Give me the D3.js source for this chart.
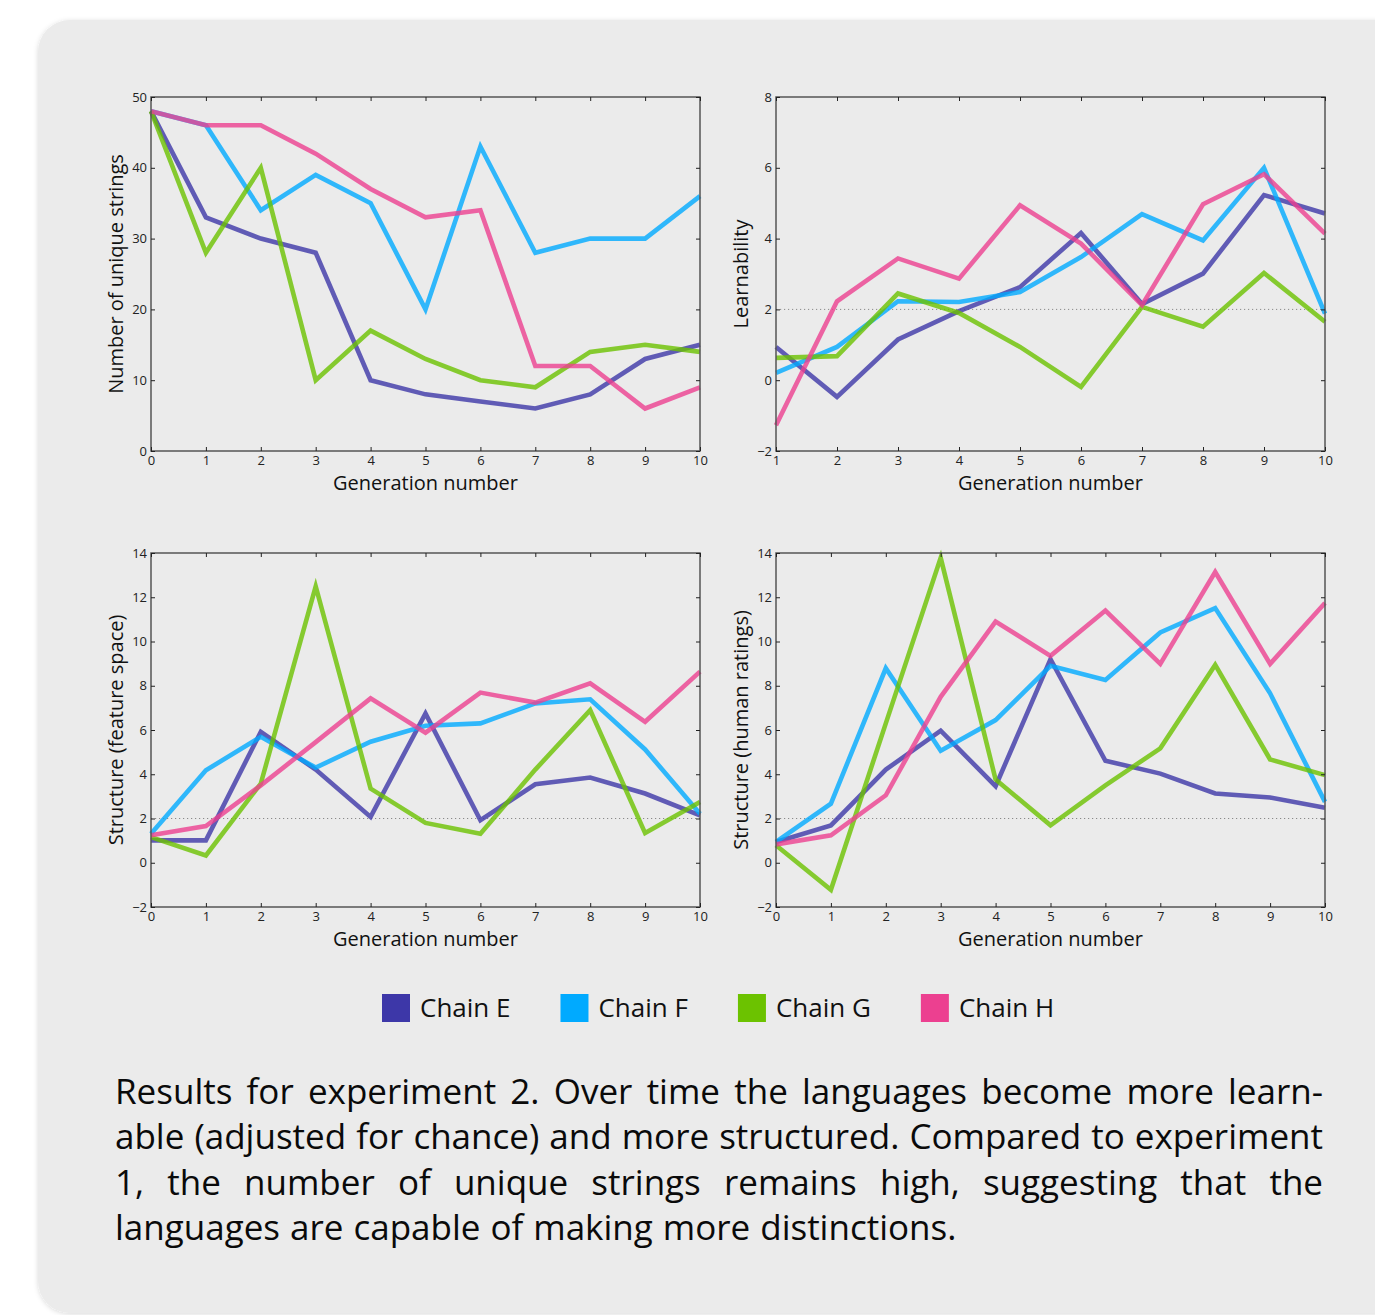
<!DOCTYPE html>
<html>
<head>
<meta charset="utf-8">
<script src="https://cdn.jsdelivr.net/npm/d3@7"></script>
<style>
  body { margin: 0; background: #fff; }
  svg { display: block; font-family: "Open Sans", sans-serif; }
</style>
</head>
<body>
<div id="fig"></div>
<script>
// chain names + colours (legend)
const chains = ["Chain E", "Chain F", "Chain G", "Chain H"]
const colors = ["#3d37a8", "#00aaff", "#6cc200", "#ec4090"]

// generations
const gens0 = [0, 1, 2, 3, 4, 5, 6, 7, 8, 9, 10]
const gens1 = [1, 2, 3, 4, 5, 6, 7, 8, 9, 10]

// number of unique strings
const uniqueE = [48, 33, 30, 28, 10, 8, 7, 6, 8, 13, 15]
const uniqueF = [48, 46, 34, 39, 35, 20, 43, 28, 30, 30, 36]
const uniqueG = [48, 28, 40, 10, 17, 13, 10, 9, 14, 15, 14]
const uniqueH = [48, 46, 46, 42, 37, 33, 34, 12, 12, 6, 9]

// learnability (gen 1..10)
const learnE = [0.94, -0.47, 1.15, 1.95, 2.63, 4.16, 2.15, 3.01, 5.23, 4.71]
const learnF = [0.21, 0.94, 2.23, 2.21, 2.49, 3.48, 4.69, 3.95, 6.0, 1.88]
const learnG = [0.63, 0.68, 2.45, 1.9, 0.94, -0.19, 2.07, 1.51, 3.03, 1.65]
const learnH = [-1.27, 2.23, 3.44, 2.87, 4.94, 3.86, 2.12, 4.97, 5.82, 4.14]

// structure (feature space)
const featE = [1.01, 1.01, 5.92, 4.21, 2.07, 6.75, 1.92, 3.55, 3.85, 3.13, 2.14]
const featF = [1.31, 4.18, 5.69, 4.3, 5.47, 6.19, 6.3, 7.2, 7.39, 5.12, 2.22]
const featG = [1.16, 0.33, 3.58, 12.49, 3.35, 1.8, 1.31, 4.21, 6.9, 1.34, 2.75]
const featH = [1.24, 1.66, 3.5, 5.45, 7.43, 5.88, 7.69, 7.24, 8.11, 6.37, 8.64]

// structure (human ratings)
const humanE = [0.94, 1.69, 4.21, 5.97, 3.46, 9.2, 4.61, 4.03, 3.13, 2.95, 2.49]
const humanF = [0.94, 2.67, 8.79, 5.06, 6.45, 8.9, 8.26, 10.41, 11.51, 7.66, 2.75]
const humanG = [0.79, -1.22, 6.3, 13.78, 3.76, 1.69, 3.5, 5.17, 8.94, 4.67, 3.96]
const humanH = [0.83, 1.24, 3.05, 7.5, 10.9, 9.35, 11.4, 8.99, 13.14, 8.99, 11.74]

const caption = [
  "Results for experiment 2. Over time the languages become more learn-",
  "able (adjusted for chance) and more structured. Compared to experiment",
  "1, the number of unique strings remains high, suggesting that the",
  "languages are capable of making more distinctions."
]

const W = 1375, H = 1315
const pw = 549, ph = 354

const svg = d3.select("#fig")
  .append("svg")
    .attr("width", W)
    .attr("height", H)

const defs = svg.append("defs")
const shadow = defs.append("filter").attr("id", "shadow")
  .attr("x", -0.05).attr("y", -0.05).attr("width", 1.1).attr("height", 1.1)
shadow.append("feDropShadow")
  .attr("dx", 0).attr("dy", 1).attr("stdDeviation", 2.5)
  .attr("flood-color", "#000").attr("flood-opacity", 0.15)

// card
svg.append("rect")
  .attr("x", 38).attr("y", 20)
  .attr("width", W).attr("height", 1293)
  .attr("rx", 32).attr("ry", 32)
  .style("fill", "#ebebeb")
  .attr("filter", "url(#shadow)")

const panels = [
  {left: 151, top: 97, xs: gens0, xdom: [0, 10], ydom: [0, 50], ystep: 10, chance: false,
   title: "Number of unique strings", series: [uniqueE, uniqueF, uniqueG, uniqueH]},
  {left: 776, top: 97, xs: gens1, xdom: [1, 10], ydom: [-2, 8], ystep: 2, chance: true,
   title: "Learnability", series: [learnE, learnF, learnG, learnH]},
  {left: 151, top: 553, xs: gens0, xdom: [0, 10], ydom: [-2, 14], ystep: 2, chance: true,
   title: "Structure (feature space)", series: [featE, featF, featG, featH]},
  {left: 776, top: 553, xs: gens0, xdom: [0, 10], ydom: [-2, 14], ystep: 2, chance: true,
   title: "Structure (human ratings)", series: [humanE, humanF, humanG, humanH]}
]

function axes(g, x, y, p){
  const xt = p.xs
  const yt = d3.range(p.ydom[0], p.ydom[1] + 0.001, p.ystep)
  //x axis
  g.append("g")
    .attr("transform", "translate(0," + ph + ")")
    .call(d3.axisBottom(x).tickValues(xt).tickSize(-4).tickPadding(5).tickFormat(d3.format("d")))
    .call(s => s.select(".domain").remove())
    .style("font-size", 13)
  g.append("g")
    .call(d3.axisTop(x).tickValues(xt).tickSize(-4).tickFormat(""))
    .call(s => s.select(".domain").remove())
  //y axis
  g.append("g")
    .call(d3.axisLeft(y).tickValues(yt).tickSize(-4).tickPadding(4).tickFormat(d3.format("d")))
    .call(s => s.select(".domain").remove())
    .style("font-size", 13)
  g.append("g")
    .attr("transform", "translate(" + pw + ",0)")
    .call(d3.axisRight(y).tickValues(yt).tickSize(-4).tickFormat(""))
    .call(s => s.select(".domain").remove())
  g.selectAll(".tick text").style("fill", "#222").style("font-family", "Open Sans")
  g.selectAll(".tick line").style("stroke", "#222")

  g.append("text")
    .attr("x", pw / 2)
    .attr("y", ph + 39)
    .attr("text-anchor", "middle")
    .style("font-size", 20)
    .style("fill", "#111")
    .text("Generation number")
  g.append("text")
    .attr("transform", "rotate(-90)")
    .attr("x", -ph / 2)
    .attr("y", -28)
    .attr("text-anchor", "middle")
    .style("font-size", 20)
    .style("fill", "#111")
    .text(p.title)
}

panels.forEach(function(p){
  const g = svg.append("g")
    .attr("transform", "translate(" + p.left + "," + p.top + ")")
  const x = d3.scaleLinear().domain(p.xdom).range([0, pw])
  const y = d3.scaleLinear().domain(p.ydom).range([ph, 0])

  if (p.chance) {
    g.append("line")
      .attr("x1", 0).attr("x2", pw)
      .attr("y1", y(2)).attr("y2", y(2))
      .style("stroke", "#8a8a8a")
      .style("stroke-width", 1)
      .style("stroke-dasharray", "1.2,2.8")
  }

  const line = d3.line().x((d, i) => x(p.xs[i])).y(d => y(d))
  g.selectAll(null)
    .data(p.series)
    .enter()
    .append("path")
    .attr("d", d => line(d))
    .style("fill", "none")
    .style("stroke", (d, i) => colors[i])
    .style("stroke-width", 4.6)
    .style("opacity", 0.8)

  g.append("rect")
    .attr("width", pw).attr("height", ph)
    .style("fill", "none")
    .style("stroke", "#555")
    .style("stroke-width", 1.5)

  axes(g, x, y, p)
})

// legend
const legend = svg.append("g")
let lx = 382
chains.forEach(function(c, i){
  legend.append("rect")
    .attr("x", lx).attr("y", 994)
    .attr("width", 28).attr("height", 28)
    .style("fill", colors[i])
  const t = legend.append("text")
    .attr("x", lx + 38).attr("y", 1017)
    .style("font-size", 26)
    .style("font-weight", 500)
    .style("fill", "#111")
    .text(c)
  lx += 38 + t.node().getComputedTextLength() + 50
})

// caption, justified line by line
const cap = svg.append("g")
  .style("font-size", 35)
  .style("font-weight", 500)
  .style("fill", "#0a0a0a")
const capLeft = 115, capWidth = 1208
caption.forEach(function(line, li){
  const yb = 1104 + li * 45.4
  const words = line.split(" ")
  const nodes = words.map(w => cap.append("text").attr("y", yb).text(w))
  const widths = nodes.map(n => n.node().getComputedTextLength())
  const last = li == caption.length - 1
  const space = last ? 10 : (capWidth - d3.sum(widths)) / (words.length - 1)
  let cx = capLeft
  nodes.forEach(function(n, i){
    n.attr("x", cx)
    cx += widths[i] + space
  })
})
</script>
</body>
</html>
